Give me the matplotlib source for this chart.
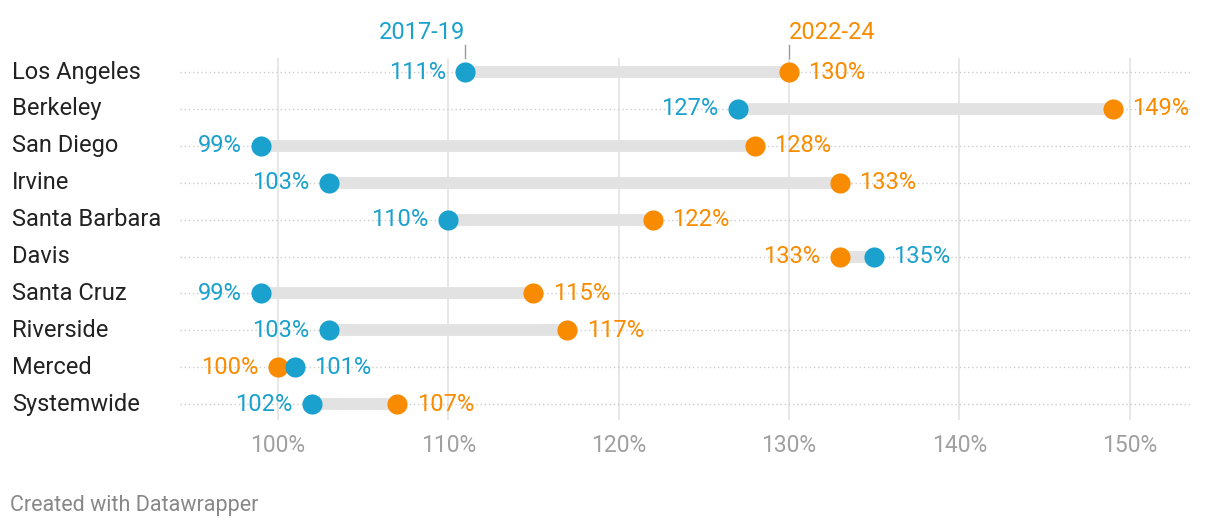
import matplotlib.pyplot as plt

plt.rcParams['font.family'] = ['Roboto', 'DejaVu Sans']

campi = ["Los Angeles", "Berkeley", "San Diego", "Irvine", "Santa Barbara",
         "Davis", "Santa Cruz", "Riverside", "Merced", "Systemwide"]
v2017 = [111, 127, 99, 103, 110, 135, 99, 103, 101, 102]
v2022 = [130, 149, 128, 133, 122, 133, 115, 117, 100, 107]
xticks = [100, 110, 120, 130, 140, 150]

azul = "#1aa1cd"
laranja = "#f98b00"
W, H = 1220, 530
fs = 17

fig = plt.figure(figsize=(W / 100, H / 100), dpi=100)
ax = fig.add_axes([180 / W, 1 - 420 / H, 1010 / W, 362 / H])

ax.set_xlim(94.25, 153.55)
ax.set_ylim(9.43, -0.38)

# grade vertical
for t in xticks:
    ax.axvline(t, color="#e3e3e3", lw=1.2, zorder=0)

for i, nome in enumerate(campi):
    a, b = v2017[i], v2022[i]
    ax.plot([94.25, 153.55], [i, i], color="#cccccc", lw=1, ls=(0, (1, 2)), zorder=1)
    ax.plot([a, b], [i, i], color="#e2e2e2", lw=8.5, solid_capstyle="butt", zorder=2)
    ax.plot(b, i, "o", color=laranja, ms=14.5, mec="none", zorder=3)
    ax.plot(a, i, "o", color=azul, ms=14.5, mec="none", zorder=4)
    if a <= b:
        ax.annotate(f"{a}%", (a, i), xytext=(-14, 0), textcoords="offset points",
                    ha="right", va="center", color=azul, fontsize=fs)
        ax.annotate(f"{b}%", (b, i), xytext=(14, 0), textcoords="offset points",
                    ha="left", va="center", color=laranja, fontsize=fs)
    else:
        ax.annotate(f"{a}%", (a, i), xytext=(14, 0), textcoords="offset points",
                    ha="left", va="center", color=azul, fontsize=fs)
        ax.annotate(f"{b}%", (b, i), xytext=(-14, 0), textcoords="offset points",
                    ha="right", va="center", color=laranja, fontsize=fs)
    fig.text(12 / W, 1 - (72 + i * 36.9) / H, nome, ha="left", va="center",
             fontsize=fs, color="#222222")

# cabeçalhos das séries
ax.annotate("2017-19", (v2017[0], -0.38), xytext=(0, 10), textcoords="offset points",
            ha="right", va="bottom", color=azul, fontsize=fs, annotation_clip=False)
ax.annotate("2022-24", (v2022[0], -0.38), xytext=(0, 10), textcoords="offset points",
            ha="left", va="bottom", color=laranja, fontsize=fs, annotation_clip=False)
for x in [v2017[0], v2022[0]]:
    ax.plot([x, x], [-0.38, -0.38 - 13 / 36.9], color="#999999", lw=1, clip_on=False)

ax.set_xticks(xticks)
ax.set_xticklabels([f"{t}%" for t in xticks], fontsize=16.5, color="#a0a0a0")
ax.tick_params(axis="x", length=0, pad=10)
ax.set_yticks([])
for s in ax.spines.values():
    s.set_visible(False)

fig.text(10 / W, 1 - 506 / H, "Created with Datawrapper", ha="left", va="center",
         fontsize=15.5, color="#888888")

fig.savefig("out.png", dpi=100)
